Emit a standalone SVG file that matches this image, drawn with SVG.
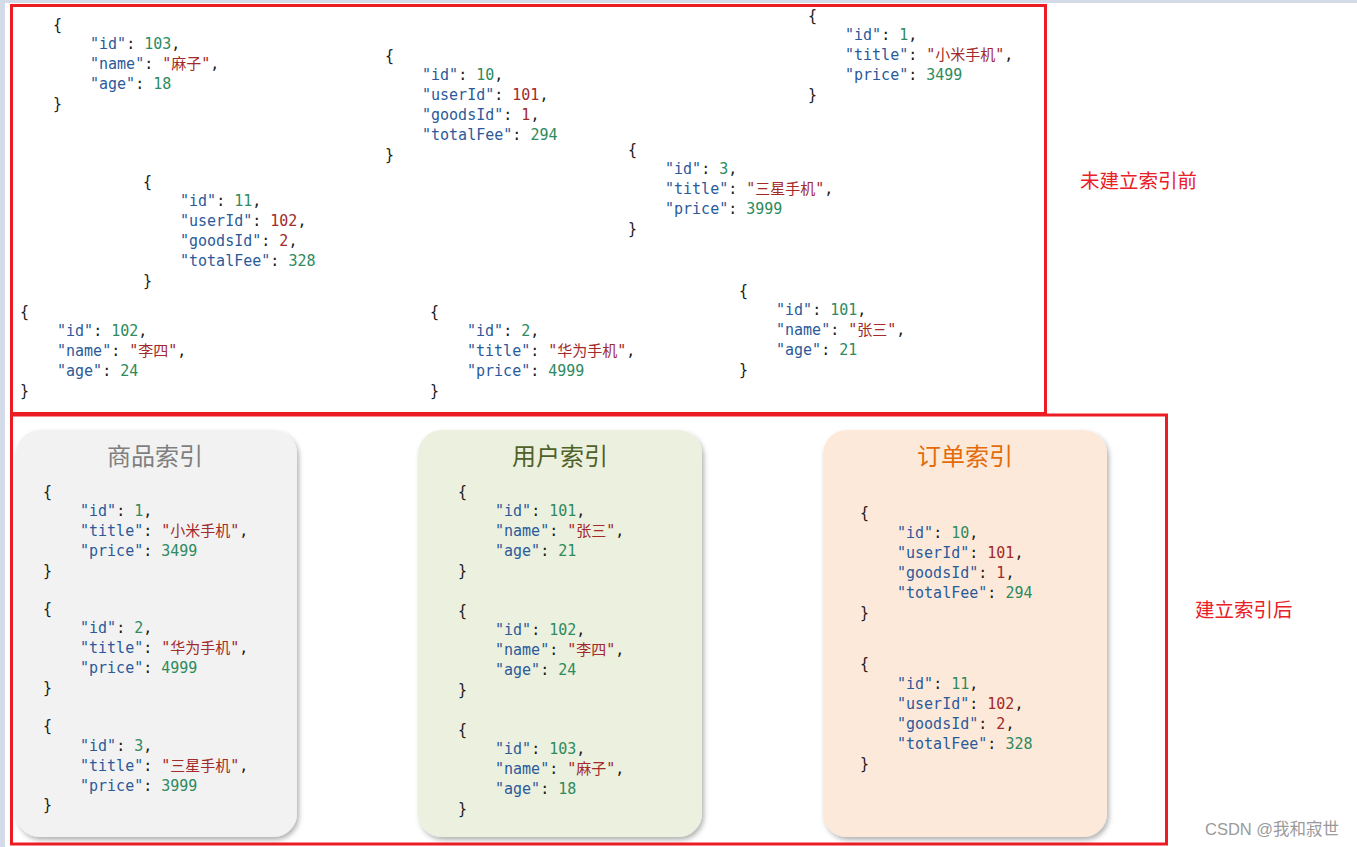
<svg xmlns="http://www.w3.org/2000/svg" width="1357" height="847" viewBox="0 0 1357 847">
<style>
.c{font-family:'DejaVu Sans Mono','Noto Sans CJK SC',monospace;font-size:15px;fill:#1a1a1a}
.k{fill:#2b5a9a}
.n{fill:#2e8a60}
.s{fill:#a32a2a}
.lab{font-family:'Noto Sans CJK SC',sans-serif;font-size:19.5px;fill:#ea2027}
.title{font-family:'Noto Sans CJK SC',sans-serif;font-size:24px;text-anchor:middle}
.frame{fill:none;stroke:#ec1c24;stroke-width:3}
</style>
<defs>
<filter id="sh" x="-10%" y="-10%" width="125%" height="125%">
<feDropShadow dx="2" dy="3" stdDeviation="2.5" flood-color="#000" flood-opacity="0.3"/>
</filter>
</defs>
<rect width="1357" height="847" fill="#ffffff"/>
<rect x="0" y="0" width="1357" height="3" fill="#d3dae8"/>
<rect x="0" y="0" width="5" height="847" fill="#d3dae8"/>

<g id="frame-before"><rect class="frame" x="11.5" y="5.5" width="1034" height="408"/></g>
<g id="frame-after"><rect class="frame" x="11.5" y="415" width="1155" height="429"/></g>

<g id="label-before"><text class="lab" x="1080" y="188">未建立索引前</text></g>
<g id="label-after"><text class="lab" x="1195" y="617">建立索引后</text></g>

<!-- top area documents -->
<g id="doc-user-103" class="c" transform="translate(53,30)">
<text>{</text>
<text x="37" y="19"><tspan class="k">"id"</tspan>: <tspan class="n">103</tspan>,</text>
<text x="37" y="39"><tspan class="k">"name"</tspan>: <tspan class="s">"麻子"</tspan>,</text>
<text x="37" y="59"><tspan class="k">"age"</tspan>: <tspan class="n">18</tspan></text>
<text y="79">}</text>
</g>
<g id="doc-order-10" class="c" transform="translate(385,61)">
<text>{</text>
<text x="37" y="19"><tspan class="k">"id"</tspan>: <tspan class="n">10</tspan>,</text>
<text x="37" y="39"><tspan class="k">"userId"</tspan>: <tspan class="s">101</tspan>,</text>
<text x="37" y="59"><tspan class="k">"goodsId"</tspan>: <tspan class="s">1</tspan>,</text>
<text x="37" y="79"><tspan class="k">"totalFee"</tspan>: <tspan class="n">294</tspan></text>
<text y="99">}</text>
</g>
<g id="doc-goods-1" class="c" transform="translate(808,21)">
<text>{</text>
<text x="37" y="19"><tspan class="k">"id"</tspan>: <tspan class="n">1</tspan>,</text>
<text x="37" y="39"><tspan class="k">"title"</tspan>: <tspan class="s">"小米手机"</tspan>,</text>
<text x="37" y="59"><tspan class="k">"price"</tspan>: <tspan class="n">3499</tspan></text>
<text y="79">}</text>
</g>
<g id="doc-goods-3" class="c" transform="translate(628,155)">
<text>{</text>
<text x="37" y="19"><tspan class="k">"id"</tspan>: <tspan class="n">3</tspan>,</text>
<text x="37" y="39"><tspan class="k">"title"</tspan>: <tspan class="s">"三星手机"</tspan>,</text>
<text x="37" y="59"><tspan class="k">"price"</tspan>: <tspan class="n">3999</tspan></text>
<text y="79">}</text>
</g>
<g id="doc-order-11" class="c" transform="translate(143,187)">
<text>{</text>
<text x="37" y="19"><tspan class="k">"id"</tspan>: <tspan class="n">11</tspan>,</text>
<text x="37" y="39"><tspan class="k">"userId"</tspan>: <tspan class="s">102</tspan>,</text>
<text x="37" y="59"><tspan class="k">"goodsId"</tspan>: <tspan class="s">2</tspan>,</text>
<text x="37" y="79"><tspan class="k">"totalFee"</tspan>: <tspan class="n">328</tspan></text>
<text y="99">}</text>
</g>
<g id="doc-user-102" class="c" transform="translate(20,317)">
<text>{</text>
<text x="37" y="19"><tspan class="k">"id"</tspan>: <tspan class="n">102</tspan>,</text>
<text x="37" y="39"><tspan class="k">"name"</tspan>: <tspan class="s">"李四"</tspan>,</text>
<text x="37" y="59"><tspan class="k">"age"</tspan>: <tspan class="n">24</tspan></text>
<text y="79">}</text>
</g>
<g id="doc-goods-2" class="c" transform="translate(430,317)">
<text>{</text>
<text x="37" y="19"><tspan class="k">"id"</tspan>: <tspan class="n">2</tspan>,</text>
<text x="37" y="39"><tspan class="k">"title"</tspan>: <tspan class="s">"华为手机"</tspan>,</text>
<text x="37" y="59"><tspan class="k">"price"</tspan>: <tspan class="n">4999</tspan></text>
<text y="79">}</text>
</g>
<g id="doc-user-101" class="c" transform="translate(739,296)">
<text>{</text>
<text x="37" y="19"><tspan class="k">"id"</tspan>: <tspan class="n">101</tspan>,</text>
<text x="37" y="39"><tspan class="k">"name"</tspan>: <tspan class="s">"张三"</tspan>,</text>
<text x="37" y="59"><tspan class="k">"age"</tspan>: <tspan class="n">21</tspan></text>
<text y="79">}</text>
</g>

<!-- goods index card -->
<g id="card-goods">
<rect x="16" y="430" width="281" height="407" rx="24" fill="#f2f2f2" filter="url(#sh)"/>
<text class="title" x="155" y="465" fill="#7f7f7f">商品索引</text>
<g class="c" transform="translate(43,497)">
<text>{</text>
<text x="37" y="19"><tspan class="k">"id"</tspan>: <tspan class="n">1</tspan>,</text>
<text x="37" y="39"><tspan class="k">"title"</tspan>: <tspan class="s">"小米手机"</tspan>,</text>
<text x="37" y="59"><tspan class="k">"price"</tspan>: <tspan class="n">3499</tspan></text>
<text y="79">}</text>
</g>
<g class="c" transform="translate(43,614)">
<text>{</text>
<text x="37" y="19"><tspan class="k">"id"</tspan>: <tspan class="n">2</tspan>,</text>
<text x="37" y="39"><tspan class="k">"title"</tspan>: <tspan class="s">"华为手机"</tspan>,</text>
<text x="37" y="59"><tspan class="k">"price"</tspan>: <tspan class="n">4999</tspan></text>
<text y="79">}</text>
</g>
<g class="c" transform="translate(43,731)">
<text>{</text>
<text x="37" y="20"><tspan class="k">"id"</tspan>: <tspan class="n">3</tspan>,</text>
<text x="37" y="40"><tspan class="k">"title"</tspan>: <tspan class="s">"三星手机"</tspan>,</text>
<text x="37" y="60"><tspan class="k">"price"</tspan>: <tspan class="n">3999</tspan></text>
<text y="79">}</text>
</g>
</g>

<!-- user index card -->
<g id="card-users">
<rect x="418" y="430" width="284" height="407" rx="24" fill="#ebf0df" filter="url(#sh)"/>
<text class="title" x="560" y="465" fill="#4f6228">用户索引</text>
<g class="c" transform="translate(458,497)">
<text>{</text>
<text x="37" y="19"><tspan class="k">"id"</tspan>: <tspan class="n">101</tspan>,</text>
<text x="37" y="39"><tspan class="k">"name"</tspan>: <tspan class="s">"张三"</tspan>,</text>
<text x="37" y="59"><tspan class="k">"age"</tspan>: <tspan class="n">21</tspan></text>
<text y="79">}</text>
</g>
<g class="c" transform="translate(458,616)">
<text>{</text>
<text x="37" y="19"><tspan class="k">"id"</tspan>: <tspan class="n">102</tspan>,</text>
<text x="37" y="39"><tspan class="k">"name"</tspan>: <tspan class="s">"李四"</tspan>,</text>
<text x="37" y="59"><tspan class="k">"age"</tspan>: <tspan class="n">24</tspan></text>
<text y="79">}</text>
</g>
<g class="c" transform="translate(458,735)">
<text>{</text>
<text x="37" y="19"><tspan class="k">"id"</tspan>: <tspan class="n">103</tspan>,</text>
<text x="37" y="39"><tspan class="k">"name"</tspan>: <tspan class="s">"麻子"</tspan>,</text>
<text x="37" y="59"><tspan class="k">"age"</tspan>: <tspan class="n">18</tspan></text>
<text y="79">}</text>
</g>
</g>

<!-- order index card -->
<g id="card-orders">
<rect x="823" y="430" width="284" height="407" rx="24" fill="#fde9da" filter="url(#sh)"/>
<text class="title" x="965" y="465" fill="#e36c0a">订单索引</text>
<g class="c" transform="translate(860,518)">
<text>{</text>
<text x="37" y="20"><tspan class="k">"id"</tspan>: <tspan class="n">10</tspan>,</text>
<text x="37" y="40"><tspan class="k">"userId"</tspan>: <tspan class="s">101</tspan>,</text>
<text x="37" y="60"><tspan class="k">"goodsId"</tspan>: <tspan class="s">1</tspan>,</text>
<text x="37" y="80"><tspan class="k">"totalFee"</tspan>: <tspan class="n">294</tspan></text>
<text y="100">}</text>
</g>
<g class="c" transform="translate(860,669)">
<text>{</text>
<text x="37" y="20"><tspan class="k">"id"</tspan>: <tspan class="n">11</tspan>,</text>
<text x="37" y="40"><tspan class="k">"userId"</tspan>: <tspan class="s">102</tspan>,</text>
<text x="37" y="60"><tspan class="k">"goodsId"</tspan>: <tspan class="s">2</tspan>,</text>
<text x="37" y="80"><tspan class="k">"totalFee"</tspan>: <tspan class="n">328</tspan></text>
<text y="100">}</text>
</g>
</g>

<g id="watermark"><text x="1205" y="835" font-family="'Liberation Sans','Noto Sans CJK SC',sans-serif" font-size="16.5" fill="#9a9a9a">CSDN @我和寂世</text></g>
</svg>
